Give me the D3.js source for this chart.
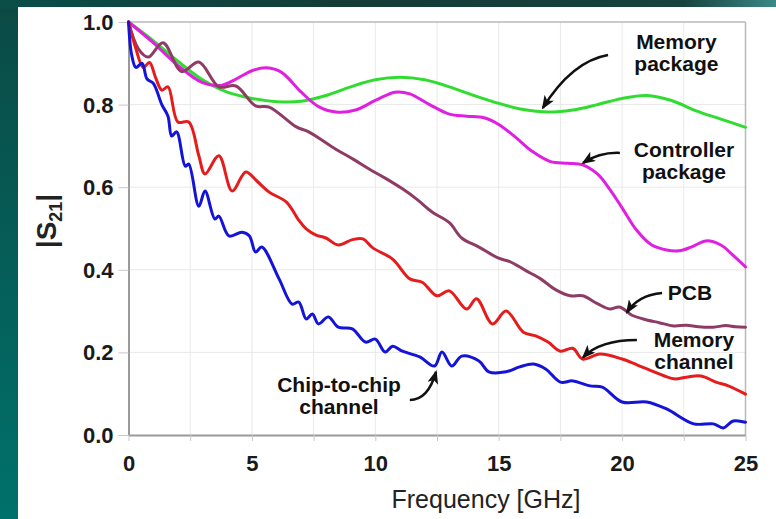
<!DOCTYPE html>
<html><head><meta charset="utf-8">
<script src="https://cdn.jsdelivr.net/npm/d3@7/dist/d3.min.js"></script>
<style>html,body{margin:0;padding:0;background:#0b4a45;}svg{display:block;}</style>
</head><body>
<script>
// ---- data ----
const xTickValues = [0, 2.5, 5, 7.5, 10, 12.5, 15, 17.5, 20, 22.5, 25];
const xTickLabels = ["0", "", "5", "", "10", "", "15", "", "20", "", "25"];
const yTickValues = [0, 0.2, 0.4, 0.6, 0.8, 1.0];
const yTickLabels = ["0.0", "0.2", "0.4", "0.6", "0.8", "1.0"];

const memoryPackage = [[0,1.0],[1,0.955],[2,0.905],[3,0.86],[4,0.83],[5,0.815],[6,0.807],[7,0.808],[8,0.822],[9,0.843],[10,0.86],[11,0.866],[12,0.86],[13,0.843],[14,0.822],[15,0.803],[16,0.788],[17,0.782],[18,0.787],[19,0.8],[20,0.815],[21,0.822],[22,0.81],[23,0.785],[24,0.765],[25,0.745]];

const controllerPackage = [[0,1.0],[1,0.95],[2,0.895],[3,0.853],[3.7,0.846],[4.3,0.86],[5,0.882],[5.6,0.889],[6.2,0.878],[7,0.83],[7.7,0.795],[8.4,0.782],[9.2,0.787],[10,0.81],[10.8,0.83],[11.4,0.826],[12.2,0.8],[13,0.777],[13.7,0.772],[14.4,0.768],[15,0.752],[15.7,0.72],[16.4,0.685],[17.1,0.662],[17.8,0.658],[18.4,0.654],[19,0.632],[19.5,0.595],[20,0.55],[20.6,0.495],[21.2,0.46],[21.8,0.448],[22.3,0.446],[22.8,0.455],[23.4,0.47],[24,0.46],[24.5,0.435],[25,0.407]];

const pcb = [[0,1.0],[0.4,0.935],[0.8,0.915],[1.4,0.95],[2.15,0.88],[2.85,0.903],[3.66,0.843],[4.35,0.845],[5.15,0.797],[5.7,0.794],[6.8,0.746],[7.3,0.734],[8.4,0.692],[9.1,0.668],[9.75,0.644],[10.4,0.622],[11.1,0.596],[11.7,0.57],[12.3,0.54],[13.0,0.514],[13.5,0.477],[14.2,0.455],[15,0.428],[15.45,0.42],[16.1,0.398],[16.7,0.378],[17.3,0.352],[17.9,0.337],[18.4,0.337],[19.0,0.318],[19.5,0.305],[19.9,0.31],[20.4,0.29],[20.85,0.281],[21.5,0.272],[22.1,0.264],[22.6,0.266],[23.1,0.262],[23.7,0.261],[24.2,0.265],[24.6,0.262],[25,0.261]];

const memoryChannel = [[0,1.0],[0.3,0.935],[0.6,0.89],[0.85,0.902],[1.1,0.865],[1.35,0.835],[1.6,0.843],[2.0,0.758],[2.44,0.758],[2.85,0.676],[3.1,0.632],[3.66,0.676],[4.2,0.591],[4.75,0.637],[5.2,0.615],[5.7,0.588],[6.4,0.564],[6.9,0.52],[7.2,0.499],[7.6,0.484],[8.0,0.477],[8.5,0.46],[9.07,0.473],[9.5,0.475],[9.9,0.453],[10.7,0.426],[11.4,0.378],[11.9,0.37],[12.5,0.337],[13.0,0.349],[13.7,0.305],[14.1,0.33],[14.75,0.269],[15.3,0.3],[16.0,0.249],[16.5,0.24],[17,0.225],[17.5,0.203],[18.0,0.21],[18.4,0.184],[19.1,0.196],[20,0.184],[20.6,0.17],[21.3,0.153],[22.1,0.136],[22.6,0.14],[23.2,0.143],[23.8,0.128],[24.3,0.119],[25,0.099]];

const chipToChip = [[0,1.0],[0.13,0.92],[0.3,0.89],[0.55,0.9],[0.75,0.862],[1.0,0.852],[1.35,0.8],[1.6,0.772],[1.75,0.724],[1.95,0.734],[2.3,0.651],[2.44,0.656],[2.85,0.554],[3.1,0.591],[3.5,0.523],[3.66,0.53],[4.07,0.482],[4.6,0.491],[4.9,0.482],[5.15,0.443],[5.4,0.455],[6.1,0.378],[6.63,0.317],[6.9,0.322],[7.2,0.281],[7.45,0.293],[7.7,0.269],[8.1,0.286],[8.5,0.261],[9.07,0.257],[9.6,0.225],[10.0,0.232],[10.4,0.201],[10.7,0.215],[11.1,0.203],[11.8,0.189],[12.4,0.167],[12.7,0.201],[13.1,0.167],[13.5,0.191],[14.2,0.179],[14.6,0.153],[15.3,0.153],[15.85,0.165],[16.4,0.172],[16.9,0.16],[17.5,0.128],[18.0,0.131],[18.7,0.119],[19.2,0.116],[20.0,0.08],[21.0,0.08],[21.8,0.063],[22.9,0.027],[23.7,0.027],[24.1,0.017],[24.5,0.034],[25,0.031]];

const seriesNames = ["Memory package", "Controller package", "PCB", "Memory channel", "Chip-to-chip channel"];
const seriesData = [memoryPackage, controllerPackage, pcb, memoryChannel, chipToChip];
const seriesColors = ["#2fdc2f", "#e020e0", "#8e3c66", "#e61c1c", "#1414d8"];

// annotations: text lines, anchor [freq, value]; arrow tail, control, tip in data units
const annotLines = [["Memory","package"],["Controller","package"],["PCB"],["Memory","channel"],["Chip-to-chip","channel"]];
const annotAnchor = [[22.2,0.934],[22.51,0.673],[22.75,0.327],[22.91,0.213],[8.53,0.104]];
const arrowTail = [[19.43,0.92],[19.91,0.683],[21.62,0.344],[20.6,0.23],[11.4,0.085]];
const arrowCtrl = [[17.97,0.905],[19.1,0.685],[20.65,0.339],[19.1,0.23],[12.14,0.085]];
const arrowTip  = [[16.79,0.792],[18.42,0.659],[20.2,0.297],[18.42,0.188],[12.46,0.153]];

// ---- drawing ----
const W = 776, H = 519;
const FONT = "'Liberation Sans', Arial, sans-serif";
const svg = d3.select("body").append("svg").attr("width", W).attr("height", H);
const defs = svg.append("defs");
const lg = defs.append("linearGradient").attr("id","leftg").attr("x1",0).attr("y1",0).attr("x2",0).attr("y2",1);
lg.append("stop").attr("offset","0%").attr("stop-color","#0b4a45");
lg.append("stop").attr("offset","100%").attr("stop-color","#00716b");
const tg = defs.append("linearGradient").attr("id","topg").attr("x1",0).attr("y1",0).attr("x2",1).attr("y2",0);
tg.append("stop").attr("offset","0%").attr("stop-color","#0a4e48");
tg.append("stop").attr("offset","45%").attr("stop-color","#153c37");
tg.append("stop").attr("offset","88%").attr("stop-color","#17423e");
tg.append("stop").attr("offset","100%").attr("stop-color","#3b8987");
const mk = defs.append("marker").attr("id","ah").attr("viewBox","0 0 14 11").attr("refX",12).attr("refY",5.5)
  .attr("markerWidth",14).attr("markerHeight",11).attr("markerUnits","userSpaceOnUse").attr("orient","auto");
mk.append("path").attr("d","M0,0 L14,5.5 L0,11 L3.5,5.5 Z").attr("fill","#111");

svg.append("rect").attr("width",W).attr("height",H).attr("fill","url(#leftg)");
svg.append("rect").attr("width",W).attr("height",9).attr("fill","url(#topg)");
svg.append("rect").attr("x",18).attr("y",7).attr("width",W-18).attr("height",H-7).attr("fill","#ffffff");

const x = d3.scaleLinear().domain([0,25]).range([128.5,745.5]);
const y = d3.scaleLinear().domain([0,1]).range([435,22]);

// gridlines
const g = svg.append("g");
g.selectAll(".vg").data(xTickValues.slice(1,-1)).enter().append("line")
  .attr("x1",d=>x(d)).attr("x2",d=>x(d)).attr("y1",y(1)).attr("y2",y(0))
  .attr("stroke","#e9e9e9").attr("stroke-width",1);
g.selectAll(".hg").data(yTickValues.slice(1,-1)).enter().append("line")
  .attr("x1",x(0)).attr("x2",x(25)).attr("y1",d=>y(d)).attr("y2",d=>y(d))
  .attr("stroke","#e9e9e9").attr("stroke-width",1);
// frame top/right
g.append("line").attr("x1",x(0)).attr("x2",x(25)).attr("y1",y(1)).attr("y2",y(1)).attr("stroke","#b8b8b8").attr("stroke-width",1.5);
g.append("line").attr("x1",x(25)).attr("x2",x(25)).attr("y1",y(1)).attr("y2",y(0)).attr("stroke","#b8b8b8").attr("stroke-width",1.5);

// axes
const xAxis = d3.axisBottom(x).tickValues(xTickValues).tickFormat((d,i)=>xTickLabels[i]).tickSize(6).tickPadding(14).tickSizeOuter(0);
const yAxis = d3.axisLeft(y).tickValues(yTickValues).tickFormat((d,i)=>yTickLabels[i]).tickSize(10).tickPadding(5).tickSizeOuter(0);
const gx = svg.append("g").attr("transform",`translate(0,${y(0)})`).call(xAxis);
const gy = svg.append("g").attr("transform",`translate(${x(0)},0)`).call(yAxis);
[gx,gy].forEach(a=>{
  a.select(".domain").attr("stroke","#9a9a9a").attr("stroke-width",2);
  a.selectAll(".tick line").attr("stroke","#c8c8c8").attr("stroke-width",1);
  a.selectAll(".tick text").attr("fill","#1a1a1a").style("font-family",FONT)
   .style("font-size","22px").style("font-weight","bold");
});
gy.selectAll(".tick text").attr("dy","0.34em");

// axis titles
svg.append("text").attr("x",486).attr("y",508).attr("text-anchor","middle")
  .style("font-family",FONT).style("font-size","25px").attr("fill","#222")
  .text("Frequency [GHz]");
const yl = svg.append("text").attr("transform","translate(56,221) rotate(-90)").attr("text-anchor","middle")
  .style("font-family",FONT).style("font-size","28px").style("font-weight","bold").attr("fill","#222");
yl.append("tspan").text("|S");
yl.append("tspan").attr("dy","6").style("font-size","18px").text("21");
yl.append("tspan").attr("dy","-6").text("|");

// series
const line = d3.line().x(d=>x(d[0])).y(d=>y(d[1])).curve(d3.curveCatmullRom.alpha(0.5));
svg.append("g").selectAll("path").data(seriesData).enter().append("path")
  .attr("d",line).attr("fill","none").attr("stroke",(d,i)=>seriesColors[i])
  .attr("stroke-width",3).attr("stroke-linejoin","round").attr("stroke-linecap","round");

// annotations
const ag = svg.append("g");
annotLines.forEach((lines,i)=>{
  lines.forEach((s,j)=>{
    ag.append("text").attr("text-anchor","middle")
      .style("font-family",FONT).style("font-size","21px").style("font-weight","bold").attr("fill","#111")
      .attr("x",x(annotAnchor[i][0])).attr("y",y(annotAnchor[i][1]) + j*22).text(s);
  });
  const p = d3.path();
  p.moveTo(x(arrowTail[i][0]), y(arrowTail[i][1]));
  p.quadraticCurveTo(x(arrowCtrl[i][0]), y(arrowCtrl[i][1]), x(arrowTip[i][0]), y(arrowTip[i][1]));
  ag.append("path").attr("d",p.toString()).attr("fill","none").attr("stroke","#111").attr("stroke-width",2.5)
    .attr("marker-end","url(#ah)");
});
</script>
</body></html>
